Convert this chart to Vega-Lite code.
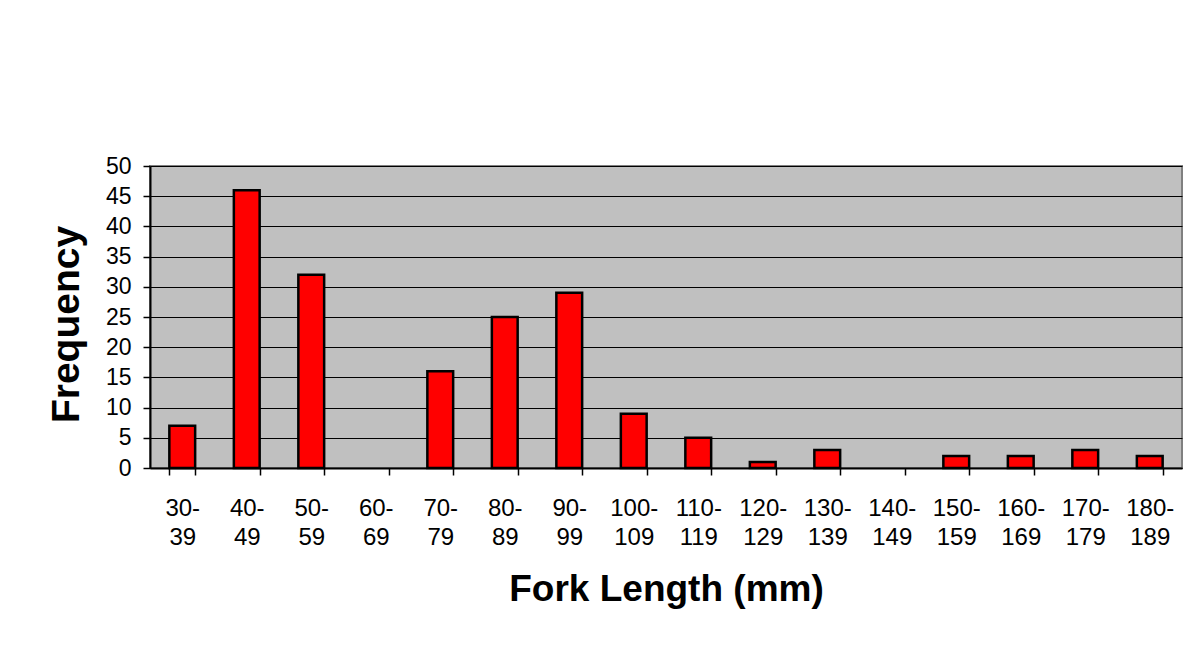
{
  "$schema": "https://vega.github.io/schema/vega-lite/v6.json",
  "autosize": {"type": "none"},
  "width": 1032,
  "height": 302,
  "padding": {"left": 150, "top": 166, "right": 16, "bottom": 180},
  "background": "white",
  "config": {
    "font": "Liberation Sans",
    "view": {"fill": "#C0C0C0", "stroke": "#808080", "strokeWidth": 2}
  },
  "data": {
    "values": [
      {"range": "30-39", "count": 7},
      {"range": "40-49", "count": 46},
      {"range": "50-59", "count": 32},
      {"range": "60-69", "count": 0},
      {"range": "70-79", "count": 16},
      {"range": "80-89", "count": 25},
      {"range": "90-99", "count": 29},
      {"range": "100-109", "count": 9},
      {"range": "110-119", "count": 5},
      {"range": "120-129", "count": 1},
      {"range": "130-139", "count": 3},
      {"range": "140-149", "count": 0},
      {"range": "150-159", "count": 2},
      {"range": "160-169", "count": 2},
      {"range": "170-179", "count": 3},
      {"range": "180-189", "count": 2}
    ]
  },
  "mark": {"type": "bar", "fill": "#FF0000", "stroke": "#000000", "strokeWidth": 2.5},
  "encoding": {
    "strokeOpacity": {"condition": {"test": "datum.count == 0", "value": 0}, "value": 1},
    "x": {
      "field": "range",
      "type": "nominal",
      "sort": null,
      "scale": {"paddingInner": 0.6, "paddingOuter": 0.3},
      "axis": {
        "title": "Fork Length (mm)",
        "titleFontSize": 37,
        "titleFontWeight": "bold",
        "titleColor": "#000000",
        "titleBaseline": "alphabetic",
        "titleY": 132,
        "labelAngle": 0,
        "labelFontSize": 24,
        "labelColor": "#000000",
        "labelBaseline": "top",
        "labelPadding": 21,
        "labelLineHeight": 29,
        "labelExpr": "isString(datum.value) ? [split(datum.value, '-')[0] + '-', split(datum.value, '-')[1]] : ''",
        "tickBand": "extent",
        "tickSize": 7,
        "tickColor": "#000000",
        "tickWidth": 1.5,
        "domainColor": "#000000",
        "domainWidth": 2,
        "grid": false
      }
    },
    "y": {
      "field": "count",
      "type": "quantitative",
      "scale": {"domain": [0, 50], "nice": false},
      "axis": {
        "title": "Frequency",
        "titleFontSize": 39,
        "titleFontWeight": "bold",
        "titleColor": "#000000",
        "titleX": -64,
        "titleY": 158,
        "values": [0, 5, 10, 15, 20, 25, 30, 35, 40, 45, 50],
        "labelFontSize": 23,
        "labelColor": "#000000",
        "labelPadding": 12,
        "tickSize": 7,
        "tickColor": "#000000",
        "tickWidth": 1.5,
        "domainColor": "#000000",
        "domainWidth": 2,
        "grid": true,
        "gridColor": "#000000",
        "gridWidth": 1
      }
    }
  }
}
